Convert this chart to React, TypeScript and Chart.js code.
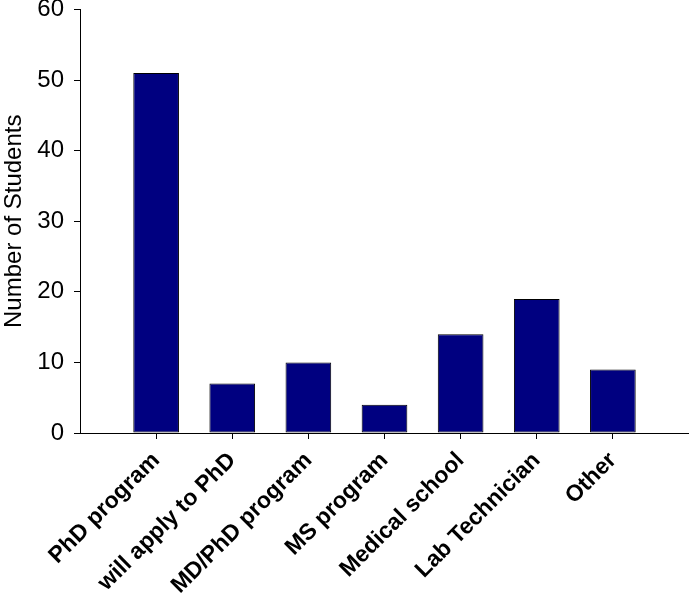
import React, { useEffect, useRef } from "react";
import { Chart, registerables } from "chart.js";

Chart.register(...registerables);

const categories = [
  "PhD program",
  "will apply to PhD",
  "MD/PhD program",
  "MS program",
  "Medical school",
  "Lab Technician",
  "Other",
];
const students = [51, 7, 10, 4, 14, 19, 9];
const yTicks = [0, 10, 20, 30, 40, 50, 60];

const FONT = "Arial, 'Liberation Sans', Helvetica, sans-serif";

export default function App() {
  const ref = useRef<HTMLCanvasElement | null>(null);

  useEffect(() => {
    if (!ref.current) return;
    const labels = ["", ...categories, ""];
    const data = [null, ...students, null];
    const chart = new Chart(ref.current, {
      type: "bar",
      data: {
        labels,
        datasets: [
          {
            data: data as any,
            backgroundColor: "#000080",
            borderColor: "#000000",
            borderWidth: 1,
            borderSkipped: false,
            barPercentage: 0.6,
            categoryPercentage: 1,
          },
        ],
      },
      options: {
        responsive: false,
        animation: false,
        layout: { padding: { top: 9.5, right: 0, bottom: 0, left: 0 } },
        plugins: { legend: { display: false }, tooltip: { enabled: false } },
        scales: {
          x: {
            offset: false,
            border: { display: true, color: "#000", width: 1 },
            grid: {
              offset: false,
              drawOnChartArea: false,
              drawTicks: true,
              tickLength: 6,
              tickColor: (ctx: any) =>
                ctx.index === 0 || ctx.index === labels.length - 1 ? "rgba(0,0,0,0)" : "#000",
            },
            ticks: {
              autoSkip: false,
              maxRotation: 45,
              minRotation: 45,
              padding: 8,
              color: "#000",
              font: { family: FONT, size: 23, weight: "bold" },
            },
            afterFit: (s: any) => {
              s.height = 161;
              s.paddingLeft = 0;
              s.paddingRight = 0;
            },
          },
          y: {
            min: 0,
            max: 60,
            border: { display: true, color: "#000", width: 1 },
            grid: { drawOnChartArea: false, drawTicks: true, tickLength: 6, color: "#000" },
            afterBuildTicks: (s: any) => {
              s.ticks = yTicks.map((v) => ({ value: v }));
            },
            ticks: {
              padding: 10,
              color: "#000",
              font: { family: FONT, size: 24 },
            },
            title: {
              display: true,
              text: "Number of Students",
              color: "#000",
              padding: { top: 0, bottom: 0 },
              font: { family: FONT, size: 24 },
            },
            afterFit: (s: any) => {
              s.width = 80;
              s.paddingTop = 0;
              s.paddingBottom = 0;
            },
          },
        },
      },
    });
    return () => chart.destroy();
  }, []);

  return (
    <div style={{ position: "fixed", left: 0, top: 0, width: 689, height: 594, background: "#fff" }}>
      <canvas ref={ref} width={689} height={594} />
    </div>
  );
}
